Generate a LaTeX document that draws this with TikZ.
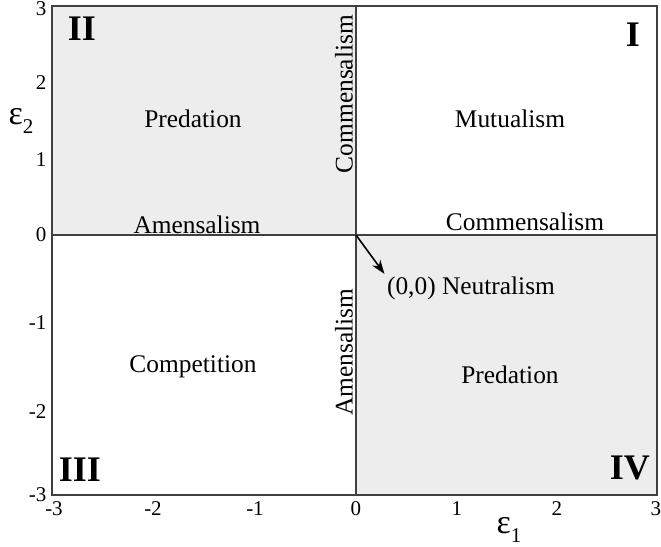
\documentclass[tikz,border=0pt]{standalone}
\usepackage{fontspec}
\setmainfont{Liberation Serif}
\usetikzlibrary{arrows.meta}
\definecolor{quadgray}{RGB}{237,237,237}
\definecolor{framegray}{RGB}{64,64,64}
\tikzset{
  ticklab/.style={font=\fontsize{10.5}{11}\selectfont, inner sep=0pt},
  lab/.style={font=\fontsize{12.7}{13}\selectfont, inner sep=1pt},
  quadnum/.style={font=\fontsize{18}{18}\selectfont\bfseries, inner sep=0pt},
  axlab/.style={inner sep=0pt},
}
\newcommand{\epslab}[1]{{\fontsize{17}{17}\selectfont ε}\raisebox{-4.5pt}{\fontsize{10.5}{11}\selectfont #1}}

\begin{document}
\begin{tikzpicture}[x=0.5pt, y=-0.5pt, line width=0.6pt]
  \useasboundingbox (0,0) rectangle (661,547);
  % shaded quadrants
  \fill[quadgray] (52,6) rectangle (356,235);
  \fill[quadgray] (356,235) rectangle (657,495);
  \draw[framegray] (52,235) -- (657,235);
  \draw[framegray] (356,6) -- (356,495);
  \draw[framegray] (52,6) rectangle (657,495);
  \coordinate (o) at (356,235);

  % quadrant numbers
  \node[quadnum] (q1) at (633,35) {I};
  \node[quadnum] (q2) at (82,29) {II};
  \node[quadnum] (q3) at (80,470) {III};
  \node[quadnum] (q4) at (630,468) {IV};

  % interactions
  \node[lab] (pred2) at (193,119) {Predation};
  \node[lab] (amen2) at (197,225) {Amensalism};
  \node[lab] (mutu) at (510,119) {Mutualism};
  \node[lab] (comm1) at (525,222) {Commensalism};
  \node[lab, rotate=90] (comm2) at (344,94) {Commensalism};
  \node[lab, rotate=90] (amen4) at (344,352) {Amensalism};
  \node[lab] (comp) at (193,367) {Competition};
  \node[lab] (pred4) at (510,375) {Predation};
  \node[lab] (neut) at (471,288) {(0,0) Neutralism};
  \draw[-{Stealth[length=7pt,width=5pt]}, line width=0.8pt] (o) -- (neut.north west);

  % tick labels
  \foreach \x/\t in {54/-3, 153/-2, 255/-1, 356/0, 457/1, 557/2, 656/3}
    \node[ticklab] at (\x,509) {\t};
  \foreach \y/\t in {9/3, 83/2, 160/1, 235/0, 323/-1, 412/-2, 495/-3}
    \node[ticklab, anchor=east] at (47,\y) {\t};

  % axis names
  \node[axlab] (eps1) at (509,530) {\epslab{1}};
  \node[axlab] (eps2) at (21,121) {\epslab{2}};
\end{tikzpicture}
\end{document}
